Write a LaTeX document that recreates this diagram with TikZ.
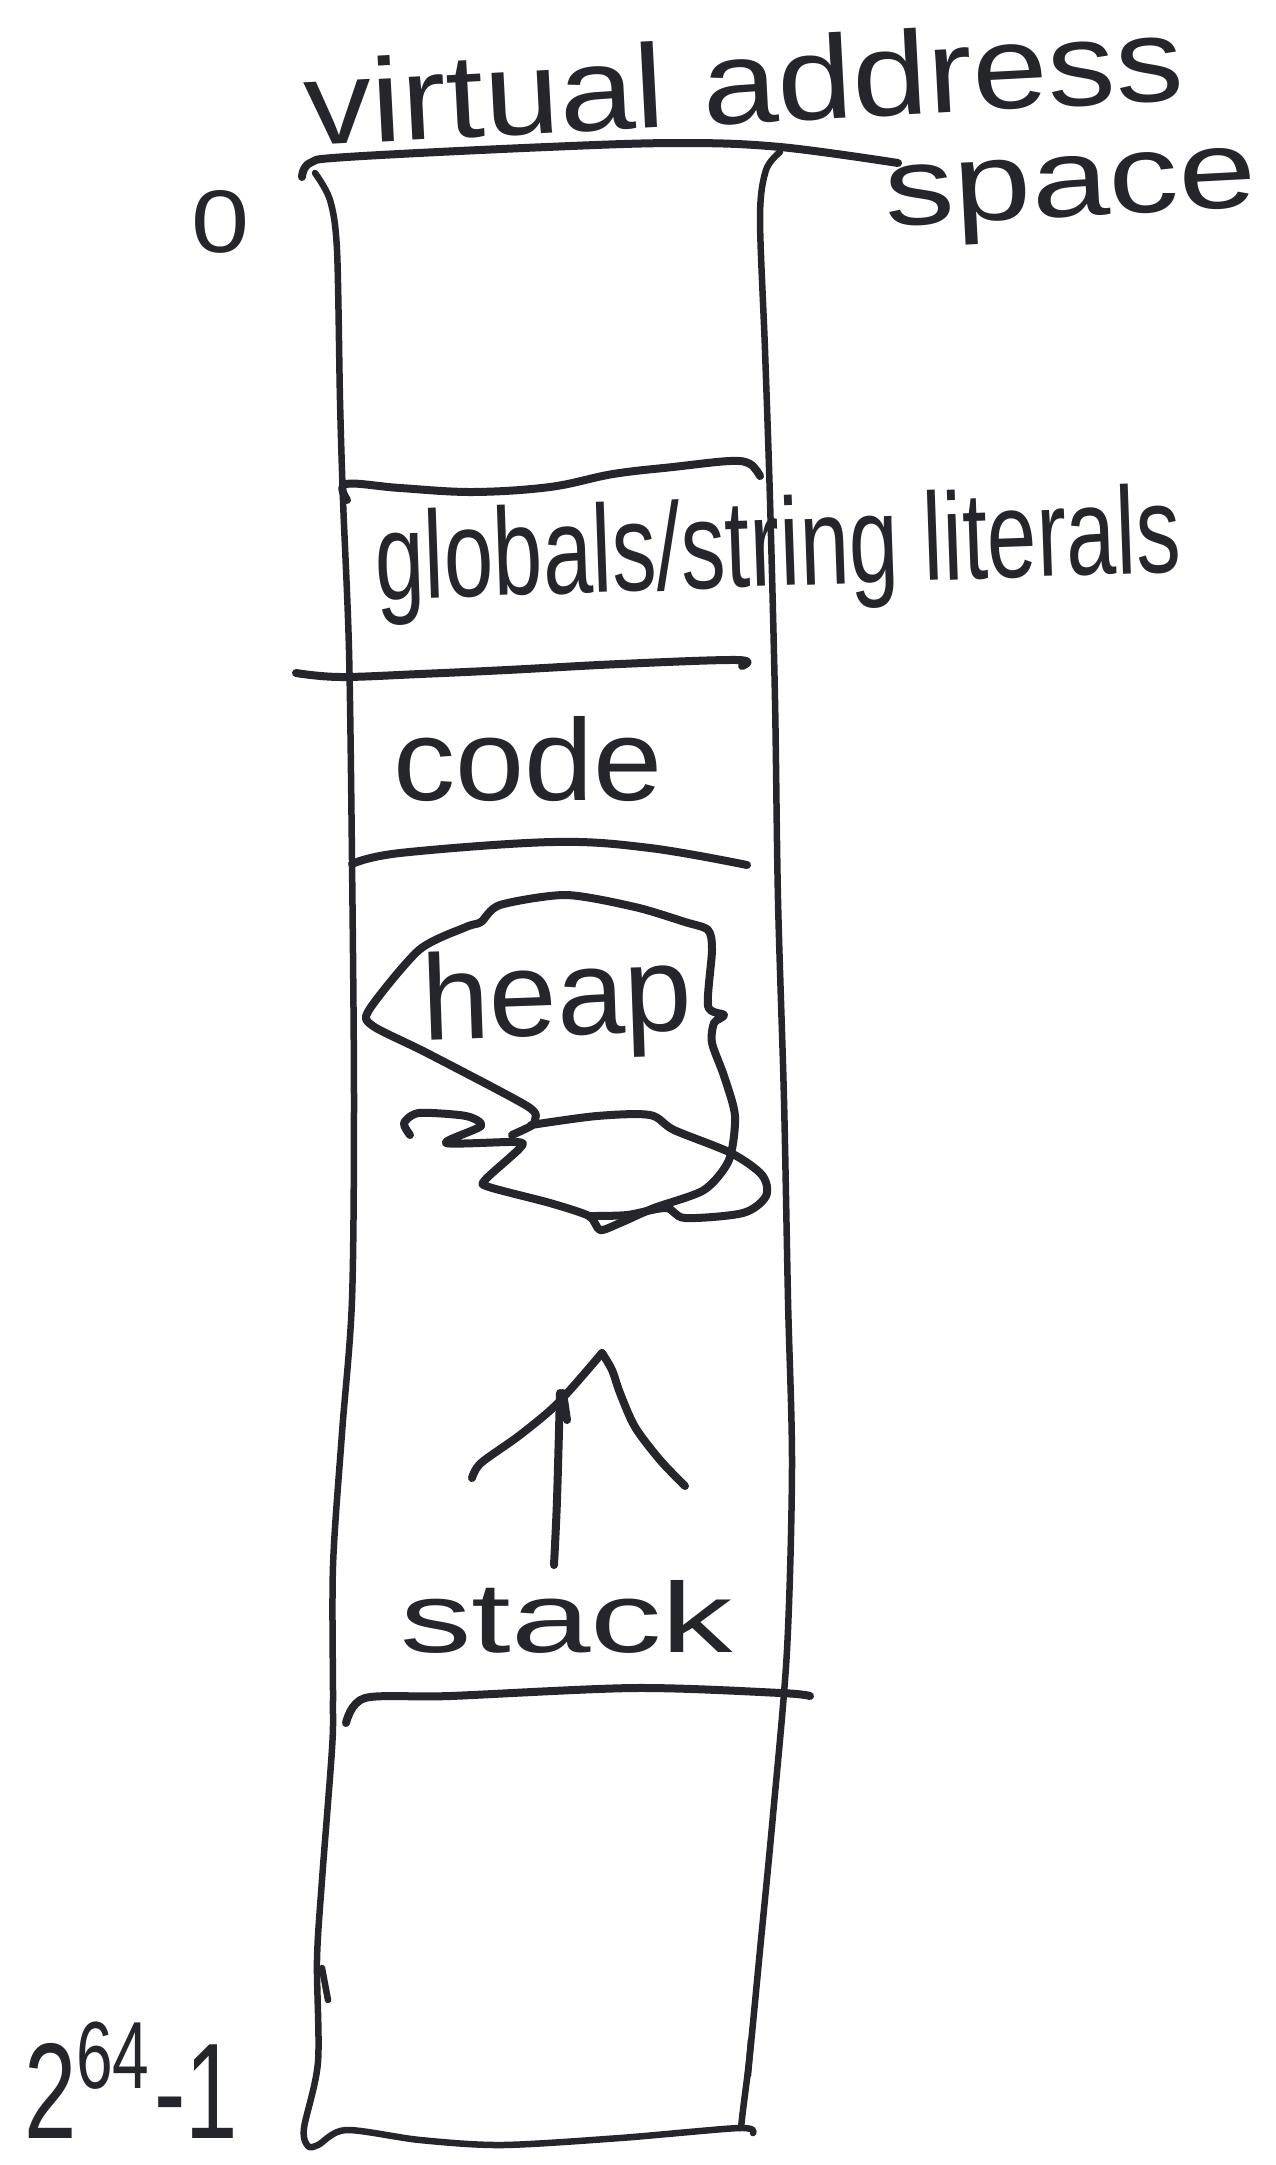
\documentclass[tikz,border=0pt]{standalone}
\usepackage{fontspec}
\setmainfont{Liberation Sans}
\usepackage{graphicx}
\definecolor{ink}{RGB}{37,38,43}
\begin{document}
\begin{tikzpicture}[x=1pt,y=-1pt,
  inkline/.style={draw=ink, line width=8pt, line cap=round, line join=round},
  thinline/.style={draw=ink, line width=6.5pt, line cap=round, line join=round},
  lbl/.style={inner sep=0pt, outer sep=0pt, text=ink}]
\fill[white] (0,0) rectangle (1275,2165);
\useasboundingbox (0,0) rectangle (1275,2165);

% ---------- column outline ----------
% top line
\draw[inkline] plot[smooth, tension=0.6] coordinates {(302,177) (310,163) (347,157) (547,147) (680,143) (780,147) (898,163)};
% left side + bottom
\draw[thinline] plot[smooth, tension=0.5] coordinates {(315,173) (330,200) (337,250) (340,400) (343,500) (349,650) (352,860) (354,1100) (352,1300) (342,1433) (333,1566) (333,1700) (332,1749) (322,1880) (317,1960) (318,2062) (304,2128) (308,2146) (318,2145) (346,2130) (420,2140) (502,2145) (620,2138) (739,2128) (753,2133)};
\draw[thinline] (322,1968) -- (328,2000);
% right side
\draw[thinline] plot[smooth, tension=0.5] coordinates {(780,152) (766,170) (760,217) (765,350) (770,500) (775,700) (778,900) (784,1100) (788,1300) (792,1466) (787,1650) (773,1815) (760,1950) (750,2053) (743,2110) (741,2128)};
\draw[thinline] (751,2040) -- (748,2075);

% ---------- dividers ----------
% globals top
\draw[inkline] plot[smooth, tension=0.6] coordinates {(347,500) (346,484) (400,488) (473,492) (550,487) (613,474) (673,467) (730,461) (750,464) (760,476)};
% globals bottom
\draw[inkline] plot[smooth, tension=0.6] coordinates {(296,673) (340,677) (420,674) (507,670) (620,664) (737,660) (742,666)};
% code bottom
\draw[inkline] plot[smooth, tension=0.6] coordinates {(352,864) (400,853) (553,842) (650,848) (747,865)};
% stack bottom
\draw[inkline] plot[smooth, tension=0.5] coordinates {(346,1723) (365,1698) (450,1696) (635,1688) (781,1693) (810,1696)};

% ---------- heap scribble ----------
\draw[inkline] plot[smooth, tension=0.45] coordinates {(410,1135) (404,1123) (419,1113) (466,1116) (481,1126) (446,1143) (516,1142) (520,1148) (485,1180) (489,1187) (550,1203) (589,1216) (600,1230) (620,1223) (654,1208) (704,1190) (729,1160) (735,1116) (724,1076) (712,1043) (714,1023) (724,1015) (708,1006) (712,950) (708,930) (685,922) (635,907) (566,895) (500,905) (481,922) (466,927) (419,950) (369,1010) (373,1026) (427,1053) (527,1106) (535,1120) (531,1126) (512,1135)};
\draw[inkline] plot[smooth, tension=0.5] coordinates {(531,1125) (597,1116) (650,1115) (674,1130) (731,1153) (762,1175) (766,1196) (743,1213) (685,1218) (666,1208) (627,1215) (589,1216)};

% ---------- growth arrow ----------
\coordinate (tail) at (554,1565);
\coordinate (tip) at (560,1393);
\coordinate (apex) at (602,1353);
\draw[inkline] plot[smooth, tension=0.5] coordinates {(tail) (557,1500) (tip)};
\draw[inkline] plot[smooth, tension=0.5] coordinates {(472,1478) (481,1463) (520,1435) (558,1403) (apex)};
\draw[inkline] plot[smooth, tension=0.5] coordinates {(apex) (612,1370) (620,1393) (635,1427) (660,1460) (685,1486)};
\draw[inkline] (563,1393) -- (567,1420);

% ---------- labels ----------
\node[lbl, anchor=base west, rotate=3] (va) at (306,146) {\resizebox{880pt}{86pt}{virtual address}};
\node[lbl, anchor=base west, rotate=3] (sp) at (886,226) {\resizebox{372pt}{60pt}{space}};
\node[lbl] (zero) at (221,222) {\resizebox{58pt}{62pt}{0}};
\node[lbl, anchor=base west, rotate=2] (gl) at (376,600) {\resizebox{806pt}{90pt}{globals/string literals}};
\node[lbl, anchor=base west] (code) at (393,800) {\resizebox{269pt}{84pt}{code}};
\node[lbl, anchor=base west, rotate=2] (heap) at (423,1040) {\resizebox{270pt}{88pt}{heap}};
\node[lbl, anchor=base west] (stack) at (400,1652) {\resizebox{333pt}{72pt}{stack}};
\node[lbl, anchor=base west] (pow) at (24,2138) {\resizebox{214pt}{116pt}{2\textsuperscript{64}-1}};
\end{tikzpicture}
\end{document}
